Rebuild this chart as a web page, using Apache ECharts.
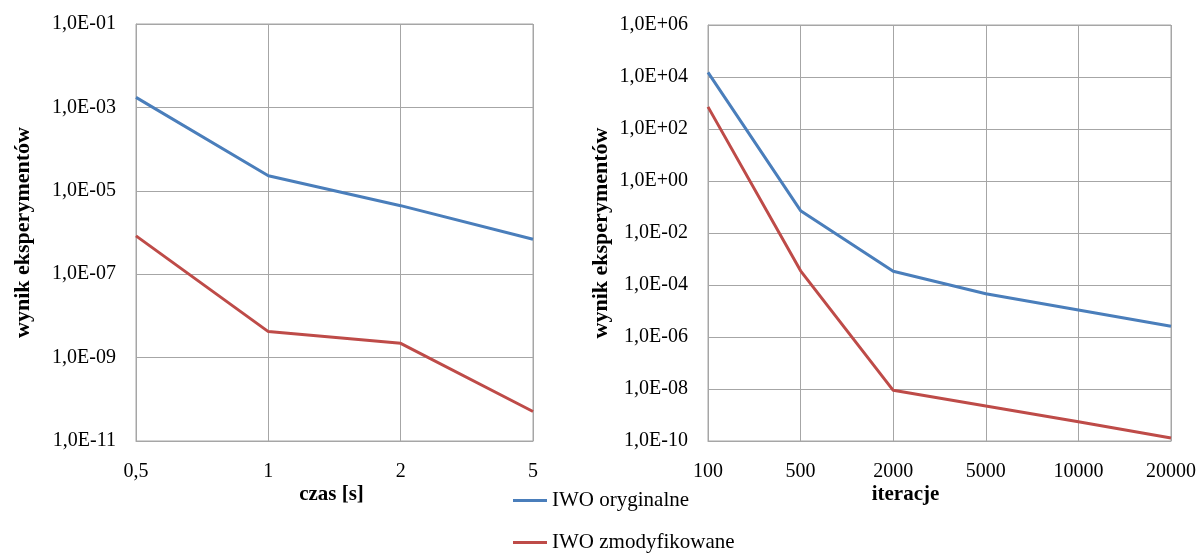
<!DOCTYPE html>
<html>
<head>
<meta charset="utf-8">
<script src="https://cdn.jsdelivr.net/npm/echarts@6/dist/echarts.min.js"></script>
<style>
html,body{margin:0;padding:0;background:#fff;}
#c{width:1201px;height:553px;}
</style>
</head>
<body>
<div id="c"></div>
<script>
// ---- data ----
const timeCategories = ['0,5', '1', '2', '5'];
const timeOriginal = [1.74e-3, 2.3e-5, 4.4e-6, 6.9e-7];
const timeModified = [8.3e-7, 4.2e-9, 2.2e-9, 5.1e-11];

const iterCategories = ['100', '500', '2000', '5000', '10000', '20000'];
const iterOriginal = [1.5e4, 7.2e-2, 3.4e-4, 4.6e-5, 1.1e-5, 2.6e-6];
const iterModified = [710, 3.5e-4, 8.9e-9, 2.2e-9, 5.5e-10, 1.3e-10];

const leftTicks = [1e-11, 1e-9, 1e-7, 1e-5, 1e-3, 1e-1];
const rightTicks = [1e-10, 1e-8, 1e-6, 1e-4, 1e-2, 1e0, 1e2, 1e4, 1e6];

const seriesNames = ['IWO oryginalne', 'IWO zmodyfikowane'];
const colors = ['#4a7ebb', '#be4b48'];

const FONT = '"Liberation Serif", "Times New Roman", serif';
const gridColor = '#a6a6a6';

function expLabel(v) {
  const e = Math.round(Math.log10(v));
  const s = e < 0 ? '-' : '+';
  const a = Math.abs(e);
  return '1,0E' + s + (a < 10 ? '0' + a : '' + a);
}

function yAxis(gridIndex, ticks, nameGap) {
  return {
    type: 'log', logBase: 10, gridIndex: gridIndex,
    min: ticks[0], max: ticks[ticks.length - 1],
    name: 'wynik eksperymentów', nameLocation: 'middle', nameGap: nameGap,
    nameMoveOverlap: false,
    nameTextStyle: {fontFamily: FONT, fontWeight: 'bold', fontSize: 22, color: '#000'},
    axisLine: {show: true, lineStyle: {color: gridColor, width: 1}},
    axisTick: {show: false, customValues: ticks},
    axisLabel: {customValues: ticks, formatter: expLabel, fontFamily: FONT, fontSize: 20, color: '#000', margin: 20},
    splitLine: {show: true, lineStyle: {color: gridColor, width: 1}}
  };
}

function xAxis(gridIndex, cats, name, namePadding) {
  return {
    type: 'category', gridIndex: gridIndex, data: cats, boundaryGap: false,
    name: name, nameLocation: 'middle', nameGap: 43,
    nameMoveOverlap: false,
    nameTextStyle: {fontFamily: FONT, fontWeight: 'bold', fontSize: 21, color: '#000', padding: namePadding},
    axisLine: {show: true, lineStyle: {color: gridColor, width: 1}},
    axisTick: {show: false},
    axisLabel: {fontFamily: FONT, fontSize: 20, color: '#000', margin: 21, interval: 0},
    splitLine: {show: true, lineStyle: {color: gridColor, width: 1}}
  };
}

function line(name, data, xi, color) {
  return {
    name: name, type: 'line', xAxisIndex: xi, yAxisIndex: xi, data: data,
    symbol: 'none', smooth: false,
    lineStyle: {color: color, width: 3}, itemStyle: {color: color},
    animation: false
  };
}

function legend(name, top) {
  return {
    orient: 'vertical', left: 508, top: top,
    itemWidth: 34, itemHeight: 14,
    icon: 'path://M0,6 L34,6 L34,9 L0,9 Z',
    textStyle: {fontFamily: FONT, fontSize: 21, color: '#000'},
    data: [name]
  };
}

const chart = echarts.init(document.getElementById('c'), null, {renderer: 'canvas'});
chart.setOption({
  backgroundColor: '#fff',
  animation: false,
  grid: [
    {left: 136, top: 24, width: 397, height: 417, show: true, borderColor: gridColor, borderWidth: 1},
    {left: 708, top: 25, width: 463, height: 416, show: true, borderColor: gridColor, borderWidth: 1}
  ],
  xAxis: [
    xAxis(0, timeCategories, 'czas [s]', [0, 6, 0, 0]),
    xAxis(1, iterCategories, 'iteracje', [0, 68, 0, 0])
  ],
  yAxis: [
    yAxis(0, leftTicks, 102),
    yAxis(1, rightTicks, 96)
  ],
  legend: [
    legend(seriesNames[0], 485),
    legend(seriesNames[1], 527)
  ],
  series: [
    line(seriesNames[0], timeOriginal, 0, colors[0]),
    line(seriesNames[1], timeModified, 0, colors[1]),
    line(seriesNames[0], iterOriginal, 1, colors[0]),
    line(seriesNames[1], iterModified, 1, colors[1])
  ]
});
</script>
</body>
</html>
